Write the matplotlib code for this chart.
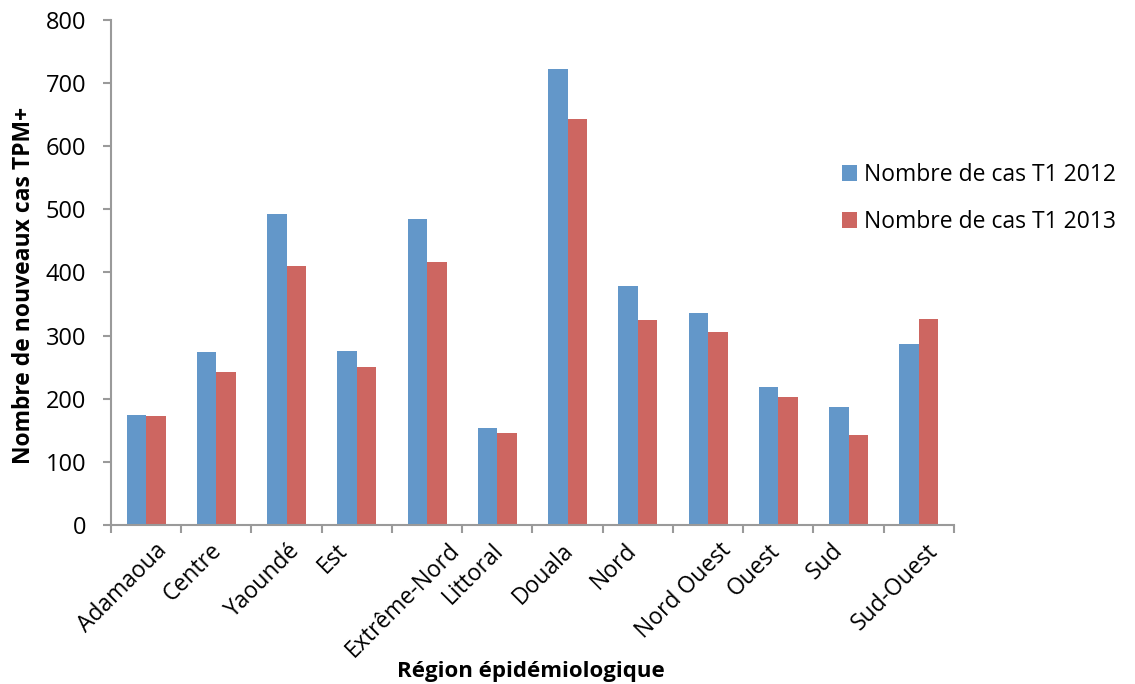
import numpy as np
import matplotlib.pyplot as plt
from matplotlib.transforms import ScaledTranslation

plt.rcParams["font.family"] = ["Open Sans", "DejaVu Sans"]

regions = ["Adamaoua", "Centre", "Yaoundé", "Est", "Extrême-Nord", "Littoral",
           "Douala", "Nord", "Nord Ouest", "Ouest", "Sud", "Sud-Ouest"]
cases_2012 = [175, 274, 493, 275, 485, 154, 722, 378, 336, 218, 187, 286]
cases_2013 = [172, 243, 410, 251, 416, 146, 643, 324, 305, 203, 142, 326]

BLUE = "#6397C9"
RED = "#CD6661"
AXIS = "#9A9A9A"

fig = plt.figure(figsize=(11.35, 6.84), dpi=100)
ax = fig.add_axes([0.0978, 0.2325, 0.7427, 0.7383])

x = np.arange(len(regions))
w = 0.278
ax.bar(x - w / 2, cases_2012, w, color=BLUE, label="Nombre de cas T1 2012")
ax.bar(x + w / 2, cases_2013, w, color=RED, label="Nombre de cas T1 2013")

ax.set_xlim(-0.5, len(regions) - 0.5)
ax.set_ylim(0, 800)
ax.set_yticks(range(0, 801, 100))
ax.tick_params(axis="y", labelsize=17, length=6, width=1.5, color=AXIS, pad=12)

# category boundaries carry the tick marks, labels sit at centres
ax.set_xticks(np.arange(-0.5, len(regions), 1.0))
ax.set_xticklabels([])
ax.tick_params(axis="x", length=6, width=1.5, color=AXIS)
ax.set_xticks(x, minor=True)
ax.set_xticklabels(regions, minor=True, rotation=45, ha="center", va="top",
                   fontsize=16.5)
ax.tick_params(axis="x", which="minor", length=0, pad=10)
shift = ScaledTranslation(-24 / 100, 0, fig.dpi_scale_trans)
for lbl in ax.get_xticklabels(minor=True):
    lbl.set_transform(lbl.get_transform() + shift)

for side in ("top", "right"):
    ax.spines[side].set_visible(False)
for side in ("left", "bottom"):
    ax.spines[side].set_color(AXIS)
    ax.spines[side].set_linewidth(1.5)

fig.text(0.021, 0.582, "Nombre de nouveaux cas TPM+", rotation=90,
         ha="center", va="center", fontsize=16.5, fontweight="bold")
fig.text(0.468, 0.018, "Région épidémiologique", ha="center", va="center",
         fontsize=16, fontweight="bold")

fig.legend(loc="center left", bbox_to_anchor=(0.7235, 0.7098), frameon=False,
           fontsize=16.5, handlelength=0.65, handleheight=0.65, handletextpad=0.3,
           labelspacing=1.0)

fig.savefig("out.png", dpi=100)
